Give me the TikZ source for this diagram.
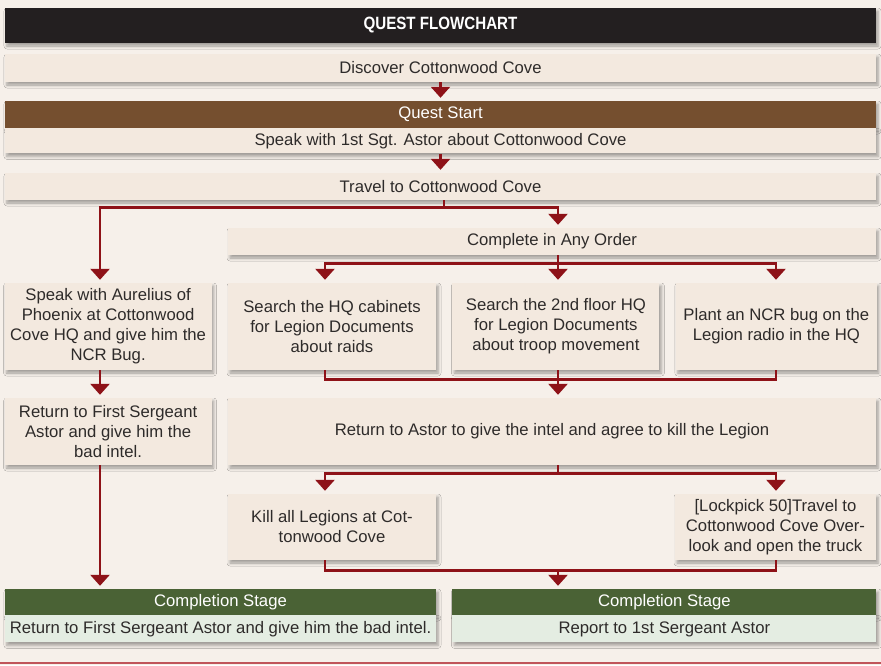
\documentclass[tikz,border=0pt]{standalone}
\usepackage{fontspec}
\setmainfont{Liberation Sans}
\newfontfamily\headfont{Liberation Sans}[FakeStretch=0.85]
\usetikzlibrary{arrows.meta, positioning, calc, shadows.blur}
\definecolor{paperbg}{HTML}{F6F0EA}
\definecolor{cardfill}{HTML}{F3E9DF}
\definecolor{inktext}{HTML}{2E2B2A}
\definecolor{titlebg}{HTML}{231F20}
\definecolor{startfill}{HTML}{754F2F}
\definecolor{donefill}{HTML}{4A6235}
\definecolor{donebody}{HTML}{E4EDE2}
\definecolor{arrowred}{HTML}{8E1218}
\definecolor{rulered}{HTML}{C0555A}
\tikzset{
  softshadow/.style={blur shadow={shadow xshift=2pt, shadow yshift=-3pt,
                     shadow blur radius=3pt, shadow opacity=35}},
  card/.style={rectangle, fill=cardfill, text=inktext, align=center, inner sep=0pt,
               font=\fontsize{16.7}{20}\selectfont, softshadow},
  titlebar/.style={rectangle, fill=titlebg, text=white, inner sep=0pt,
                   font=\headfont\bfseries\fontsize{17.8}{20}\selectfont, softshadow},
  starthead/.style={card, fill=startfill, text=white},
  donehead/.style={card, fill=donefill, text=white},
  donetext/.style={card, fill=donebody},
  flow/.style={draw=arrowred, line width=2.6pt, shorten >=3pt,
               -{Triangle[width=19pt, length=11pt]}},
  wire/.style={draw=arrowred, line width=2.6pt},
}
\def\colgap{16pt}

\begin{document}
\begin{tikzpicture}[x=1pt, y=-1pt]
\fill[paperbg] (0,0) rectangle (881,665);
\useasboundingbox (0,0) rectangle (881,665);

% Lanes of the connectors
\coordinate (laneL) at (100,0);
\coordinate (laneA) at (325,0);
\coordinate (laneT) at (444,0);
\coordinate (laneM) at (558,0);
\coordinate (laneR) at (776,0);

% Opening steps
\node[titlebar, minimum width=871pt, minimum height=35pt] (title) at (440.5,25.5) {QUEST FLOWCHART};
\node[card, minimum width=871pt, minimum height=28pt] (discover) at (440.5,68) {Discover Cottonwood Cove};
\node[starthead, minimum width=871pt, minimum height=27pt] (queststart) at (440.5,114.5) {Quest Start};
\node[card, below=0pt of queststart, minimum width=871pt, minimum height=25pt] (speak) {Speak with 1st Sgt. Astor about Cottonwood Cove};
\node[card, minimum width=871pt, minimum height=27pt] (travel) at (440.5,186.5) {Travel to Cottonwood Cove};

% Any order branch
\node[card, minimum width=648pt, minimum height=27pt] (anyorder) at (552,241.5) {Complete in Any Order};
\node[card, minimum width=208pt, minimum height=87pt] (cabinets) at (332,326.5) {Search the HQ cabinets\\for Legion Documents\\about raids};
\node[card, right=\colgap of cabinets, minimum width=207pt, minimum height=87pt] (floor2) {Search the 2nd floor HQ\\for Legion Documents\\about troop movement};
\node[card, right=\colgap of floor2, minimum width=201pt, minimum height=87pt] (plant) {Plant an NCR bug on the\\Legion radio in the HQ};
\node[card, left=\colgap of cabinets, minimum width=207pt, minimum height=87pt] (aurelius) {Speak with Aurelius of\\Phoenix at Cottonwood\\Cove HQ and give him the\\NCR Bug.};

% Return steps
\node[card, minimum width=648pt, minimum height=67pt] (retastor) at (552,431.5) {Return to Astor to give the intel and agree to kill the Legion};
\node[card, left=\colgap of retastor, minimum width=207pt, minimum height=67pt] (retsgt) {Return to First Sergeant\\Astor and give him the\\bad intel.};
\node[card, minimum width=208pt, minimum height=66pt] (kill) at (332,527) {Kill all Legions at Cot-\\tonwood Cove};
\node[card, minimum width=201pt, minimum height=66pt] (lockpick) at (775.5,527) {[Lockpick 50]Travel to\\Cottonwood Cove Over-\\look and open the truck};

% Completion stages
\node[donehead, minimum width=431pt, minimum height=26pt] (done1head) at (220.5,602) {Completion Stage};
\node[donetext, below=0pt of done1head, minimum width=431pt, minimum height=27pt] (done1body) {Return to First Sergeant Astor and give him the bad intel.};
\node[donehead, right=\colgap of done1head, minimum width=424pt, minimum height=26pt] (done2head) {Completion Stage};
\node[donetext, below=0pt of done2head, minimum width=424pt, minimum height=27pt] (done2body) {Report to 1st Sergeant Astor};

% Flow
\draw[flow] (discover) -- (queststart);
\draw[flow] (speak) -- (travel);
\draw[wire] (travel.south -| laneT) -- ++(0,7) coordinate (splitA);
\draw[flow] (splitA) -| (laneL |- aurelius.north);
\draw[flow] (splitA) -| (laneM |- anyorder.north);
\draw[wire] (anyorder.south -| laneM) -- ++(0,8) coordinate (splitB);
\draw[flow] (splitB) -| (laneA |- cabinets.north);
\draw[flow] (splitB) -- (laneM |- floor2.north);
\draw[flow] (splitB) -| (laneR |- plant.north);
\draw[wire] (cabinets.south -| laneA) -- ++(0,9) -| (plant.south -| laneR);
\draw[flow] (floor2.south -| laneM) -- (retastor.north -| laneM);
\draw[flow] (aurelius.south -| laneL) -- (retsgt.north -| laneL);
\draw[wire] (retastor.south -| laneM) -- ++(0,8) coordinate (splitC);
\draw[flow] (splitC) -| (laneA |- kill.north);
\draw[flow] (splitC) -| (laneR |- lockpick.north);
\draw[wire] (kill.south -| laneA) -- ++(0,10) coordinate (joinC) -| (lockpick.south -| laneR);
\draw[flow] (joinC -| laneM) -- (done2head.north -| laneM);
\draw[flow] (retsgt.south -| laneL) -- (done1head.north -| laneL);

% Closing rule
\draw[rulered, line width=2.5pt] (0,663) -- (881,663);
\end{tikzpicture}
\end{document}
